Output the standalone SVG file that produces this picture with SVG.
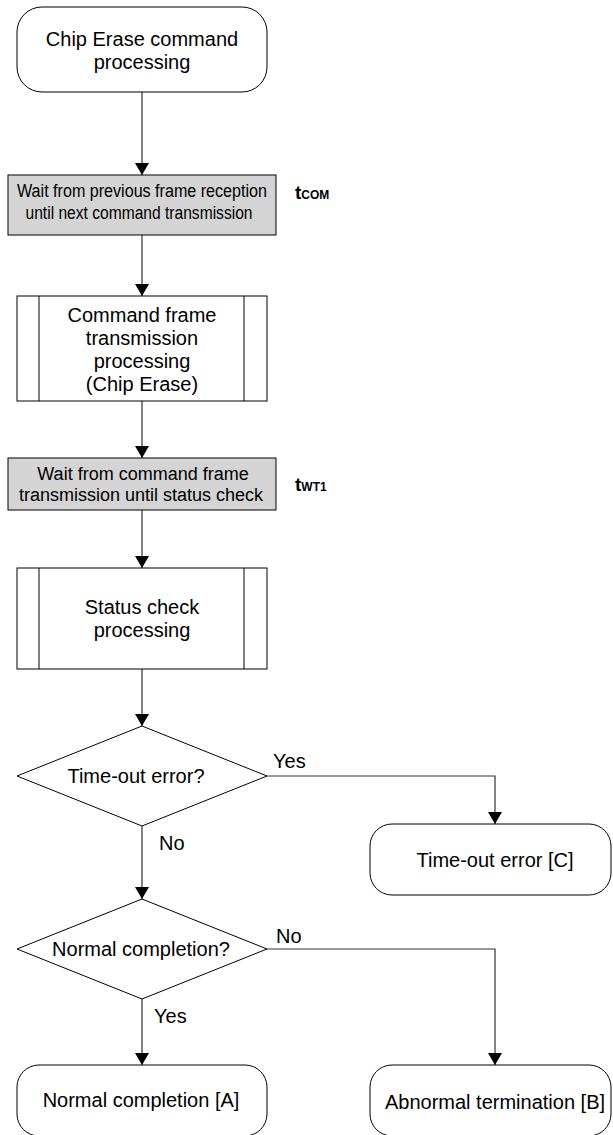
<svg xmlns="http://www.w3.org/2000/svg" width="613" height="1135" viewBox="0 0 613 1135">
<style>
text{font-family:"Liberation Sans",Arial,sans-serif;fill:#000}
.t20{font-size:20px;text-anchor:middle}
.t18{font-size:18px;text-anchor:middle}
.lbl{font-size:20px}
.box{fill:#fff;stroke:#000;stroke-width:1}
.gray{fill:#d4d4d4;stroke:#000;stroke-width:1}
.ln{fill:none;stroke:#333;stroke-width:1.2;marker-end:url(#arr)}
.sym{font-weight:bold}
</style>
<defs>
<marker id="arr" markerWidth="12" markerHeight="14" refX="12" refY="7" orient="auto" markerUnits="userSpaceOnUse" viewBox="0 0 12 14">
<path d="M0,0 L12,7 L0,14 Z" fill="#000"/>
</marker>
</defs>
<g id="connectors">
<path class="ln" d="M142,92 V175"/>
<path class="ln" d="M142,235 V296"/>
<path class="ln" d="M142,401 V458"/>
<path class="ln" d="M142,510 V568"/>
<path class="ln" d="M142,669 V726"/>
<path class="ln" d="M267,776 H495 V824"/>
<path class="ln" d="M142,826 V899"/>
<path class="ln" d="M267,949 H495 V1065"/>
<path class="ln" d="M142,999 V1065"/>
<text class="lbl" x="273" y="768">Yes</text>
<text class="lbl" x="159" y="850">No</text>
<text class="lbl" x="276" y="943">No</text>
<text class="lbl" x="154" y="1023">Yes</text>
</g>
<g id="start">
<rect class="box" x="17" y="7" width="250" height="85" rx="25" ry="25"/>
<text class="t20" x="142" y="46">Chip Erase command</text>
<text class="t20" x="142" y="69">processing</text>
</g>
<g id="wait1">
<rect class="gray" x="8" y="175" width="268" height="60"/>
<text class="t18" x="142" y="197" textLength="250" lengthAdjust="spacingAndGlyphs">Wait from previous frame reception</text>
<text class="t18" x="139" y="219" textLength="227" lengthAdjust="spacingAndGlyphs">until next command transmission</text>
</g>
<g id="tcom">
<text class="sym" x="295" y="199"><tspan font-size="19">t</tspan><tspan font-size="12">COM</tspan></text>
</g>
<g id="cmdframe">
<rect class="box" x="17" y="296" width="250" height="105"/>
<line class="box" x1="39" y1="296" x2="39" y2="401"/>
<line class="box" x1="244" y1="296" x2="244" y2="401"/>
<text class="t20" x="142" y="322">Command frame</text>
<text class="t20" x="142" y="345">transmission</text>
<text class="t20" x="142" y="368">processing</text>
<text class="t20" x="142" y="391">(Chip Erase)</text>
</g>
<g id="wait2">
<rect class="gray" x="8" y="458" width="268" height="52"/>
<text class="t18" x="143" y="480">Wait from command frame</text>
<text class="t18" x="141" y="501">transmission until status check</text>
</g>
<g id="twt1">
<text class="sym" x="295" y="491"><tspan font-size="19">t</tspan><tspan font-size="12">WT1</tspan></text>
</g>
<g id="status">
<rect class="box" x="17" y="568" width="250" height="101"/>
<line class="box" x1="39" y1="568" x2="39" y2="669"/>
<line class="box" x1="244" y1="568" x2="244" y2="669"/>
<text class="t20" x="142" y="614">Status check</text>
<text class="t20" x="142" y="637">processing</text>
</g>
<g id="timeout">
<polygon class="box" points="142,726 267,776 142,826 17,776"/>
<text class="t20" x="136" y="783">Time-out error?</text>
</g>
<g id="errC">
<rect class="box" x="370" y="824" width="241" height="71" rx="22" ry="22"/>
<text class="t20" x="495" y="867">Time-out error [C]</text>
</g>
<g id="normal">
<polygon class="box" points="142,899 267,949 142,999 17,949"/>
<text class="t20" x="141" y="956">Normal completion?</text>
</g>
<g id="endA">
<rect class="box" x="17" y="1065" width="250" height="71" rx="22" ry="22"/>
<text class="t20" x="141" y="1107">Normal completion [A]</text>
</g>
<g id="endB">
<rect class="box" x="370" y="1065" width="241" height="71" rx="22" ry="22"/>
<text class="t20" x="495" y="1109">Abnormal termination [B]</text>
</g>
</svg>
